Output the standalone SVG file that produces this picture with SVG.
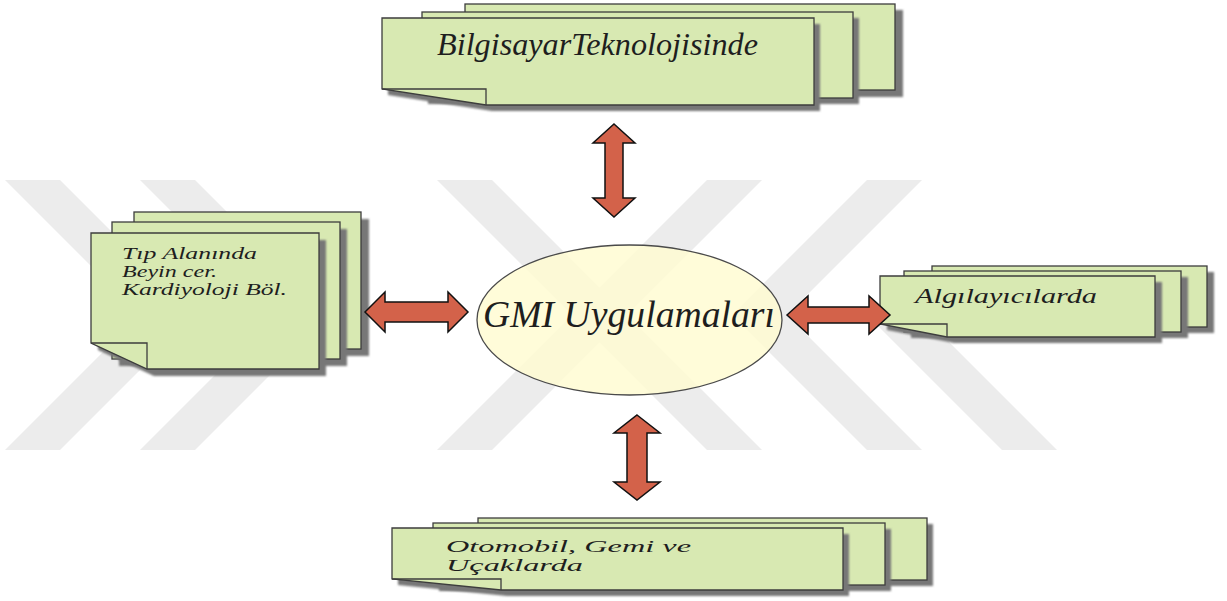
<svg xmlns="http://www.w3.org/2000/svg" width="1227" height="601" viewBox="0 0 1227 601">
<style>
.wm{fill:#ececec}
.sheet{fill:#d8e9b2;stroke:#3d3d3d;stroke-width:1.3}
.sh{fill:#777777;filter:url(#blur)}
.crease{fill:none;stroke:#3d3d3d;stroke-width:1.3}
.lbl{font-family:'Liberation Serif','Times New Roman',Tinos,serif;font-style:italic;fill:#1e1e1e}
.arrow{fill:#d3624a;stroke:#111;stroke-width:1.5;stroke-linejoin:miter}
</style>
<defs>
<filter id="blur" x="-5%" y="-5%" width="110%" height="110%"><feGaussianBlur stdDeviation="1.2"/></filter>
</defs>
<rect width="1227" height="601" fill="#ffffff"/>
<g id="watermark">
<polygon class="wm" points="5,180 60,180 195,315 60,450 5,450 140,315"/>
<polygon class="wm" points="140,180 195,180 330,315 195,450 140,450 275,315"/>
<polygon class="wm" points="437,180 492,180 762,450 707,450"/>
<polygon class="wm" points="707,180 762,180 492,450 437,450"/>
<polygon class="wm" points="867,180 922,180 787,315 922,450 867,450 732,315"/>
<polygon class="wm" points="867,315 922,315 1057,450 1002,450"/>
</g>
<g id="node-top">
<rect class="sh" x="471" y="10" width="432" height="87"/>
<rect class="sheet" x="465" y="4" width="430" height="86"/>
<rect class="sh" x="428" y="18" width="431" height="86"/>
<rect class="sheet" x="422" y="12" width="431" height="86"/>
<path class="sh" d="M388,24 H820 V111 H492 L388,95 Z"/>
<path class="sheet" d="M382,18 H814 V105 H486 L382,89 Z"/>
<path class="crease" d="M382,89 H486 V105"/>
<text class="lbl" font-family="Liberation Serif, serif" x="437" y="55" font-size="31" textLength="321" lengthAdjust="spacingAndGlyphs">BilgisayarTeknolojisinde</text>
</g>
<g id="node-left">
<rect class="sh" x="141" y="219" width="228" height="137"/>
<rect class="sheet" x="134" y="212" width="227" height="137"/>
<rect class="sh" x="119" y="229" width="228" height="137"/>
<rect class="sheet" x="112" y="222" width="228" height="137"/>
<path class="sh" d="M98,240 H326 V376 H154 L98,350 Z"/>
<path class="sheet" d="M91,233 H319 V369 H147 L91,343 Z"/>
<path class="crease" d="M91,343 H147 V369"/>
<text class="lbl" font-family="Liberation Serif, serif" x="122" y="259" font-size="17" textLength="135" lengthAdjust="spacingAndGlyphs">Tıp Alanında</text>
<text class="lbl" font-family="Liberation Serif, serif" x="122" y="277" font-size="17" textLength="95" lengthAdjust="spacingAndGlyphs">Beyin cer.</text>
<text class="lbl" font-family="Liberation Serif, serif" x="122" y="295" font-size="17" textLength="165" lengthAdjust="spacingAndGlyphs">Kardiyoloji Böl.</text>
</g>
<g id="node-right">
<rect class="sh" x="939" y="272" width="275" height="61"/>
<rect class="sheet" x="932" y="266" width="275" height="61"/>
<rect class="sh" x="911" y="277" width="277" height="61"/>
<rect class="sheet" x="904" y="271" width="277" height="61"/>
<path class="sh" d="M887,282 H1162 V343 H954 L887,330 Z"/>
<path class="sheet" d="M880,276 H1155 V337 H947 L880,324 Z"/>
<path class="crease" d="M880,324 H947 V337"/>
<text class="lbl" font-family="Liberation Serif, serif" x="915" y="303" font-size="20" textLength="182" lengthAdjust="spacingAndGlyphs">Algılayıcılarda</text>
</g>
<g id="node-bottom">
<rect class="sh" x="484" y="524" width="449" height="62"/>
<rect class="sheet" x="478" y="518" width="449" height="62"/>
<rect class="sh" x="439" y="529" width="452" height="62"/>
<rect class="sheet" x="433" y="523" width="452" height="62"/>
<path class="sh" d="M398,534 H849 V596 H507 L398,585 Z"/>
<path class="sheet" d="M392,528 H843 V590 H501 L392,579 Z"/>
<path class="crease" d="M392,579 H501 V590"/>
<text class="lbl" font-family="Liberation Serif, serif" x="446" y="552" font-size="17" textLength="245" lengthAdjust="spacingAndGlyphs">Otomobil, Gemi ve</text>
<text class="lbl" font-family="Liberation Serif, serif" x="446" y="571" font-size="17" textLength="137" lengthAdjust="spacingAndGlyphs">Uçaklarda</text>
</g>
<g id="node-center">
<ellipse cx="629.5" cy="320" rx="152.5" ry="75" fill="#fffcd2" fill-opacity="0.85" stroke="#4a4a4a" stroke-width="1.3"/>
<text class="lbl" font-family="Liberation Serif, serif" x="483" y="327" font-size="38" textLength="292" lengthAdjust="spacingAndGlyphs">GMI Uygulamaları</text>
</g>
<g id="connectors">
<polygon class="arrow" points="614,124 635,143 623,143 623,198 635,198 614,217 593,198 605,198 605,143 593,143"/>
<polygon class="arrow" points="637,415 660,433 647,433 647,482 660,482 637,500 614,482 627,482 627,433 614,433"/>
<polygon class="arrow" points="365,312 385,292 385,302 448,302 448,292 468,312 448,332 448,322 385,322 385,332"/>
<polygon class="arrow" points="787,315 808,296 808,307 869,307 869,296 890,315 869,334 869,323 808,323 808,334"/>
</g>
</svg>
